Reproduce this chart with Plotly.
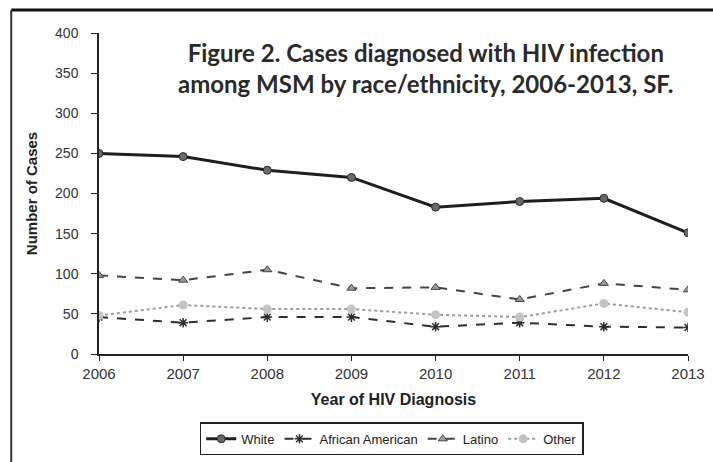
import plotly.graph_objects as go

years = [2006, 2007, 2008, 2009, 2010, 2011, 2012, 2013]
white = [250, 246, 229, 220, 183, 190, 194, 151]
african_american = [46, 39, 46, 46, 34, 39, 34, 33]
latino = [98, 92, 105, 82, 83, 68, 88, 80]
other = [48, 61, 56, 56, 49, 46, 63, 52]

y_ticks = [0, 50, 100, 150, 200, 250, 300, 350, 400]

fig = go.Figure()

fig.add_trace(go.Scatter(
    x=years, y=white, name="White", mode="lines+markers",
    line=dict(color="#1e1e1e", width=3),
    marker=dict(symbol="circle", size=8, color="#6a6a6a",
                line=dict(color="#2a2a2a", width=1)),
))
fig.add_trace(go.Scatter(
    x=years, y=african_american, name="African American", mode="lines+markers",
    line=dict(color="#2e2e2e", width=2, dash="dash"),
    marker=dict(symbol="asterisk", size=8, color="#2e2e2e",
                line=dict(color="#2e2e2e", width=1.5)),
))
fig.add_trace(go.Scatter(
    x=years, y=latino, name="Latino", mode="lines+markers",
    line=dict(color="#444444", width=2, dash="dash"),
    marker=dict(symbol="triangle-up", size=8, color="#9a9a9a",
                line=dict(color="#444444", width=1)),
))
fig.add_trace(go.Scatter(
    x=years, y=other, name="Other", mode="lines+markers",
    line=dict(color="#9c9c9c", width=2, dash="dot"),
    marker=dict(symbol="circle", size=9, color="#c4c4c4"),
))

# outer frame of the figure panel
fig.add_shape(type="line", xref="paper", yref="paper",
              x0=-0.149, x1=1.05, y0=1.072, y1=1.072,
              line=dict(color="#111111", width=3))
fig.add_shape(type="line", xref="paper", yref="paper",
              x0=-0.149, x1=-0.149, y0=1.072, y1=-0.35,
              line=dict(color="#333333", width=2))

fig.add_annotation(
    text="<b>Figure 2. Cases diagnosed with HIV infection<br>among MSM by race/ethnicity, 2006-2013, SF.</b>",
    xref="paper", yref="paper", x=0.555, y=0.99, xanchor="center", yanchor="top",
    showarrow=False, align="center",
    font=dict(family="Lato", size=24, color="#2a2a2a"),
)

fig.update_layout(
    width=713, height=462,
    margin=dict(l=99, r=25, t=33, b=108, autoexpand=False),
    paper_bgcolor="white", plot_bgcolor="white",
    showlegend=True,
    legend=dict(
        orientation="h", x=0.497, y=-0.213, xanchor="center", yanchor="top",
        bordercolor="#222222", borderwidth=1.5,
        font=dict(family="Arial", size=13, color="#222222"),
        itemwidth=30, tracegroupgap=0,
    ),
    font=dict(family="Arial", color="#333333"),
)

fig.update_xaxes(
    range=[2006, 2013], tickmode="array", tickvals=years,
    ticktext=[str(y) for y in years],
    showline=True, linecolor="#222222", linewidth=2,
    ticks="outside", ticklen=5, tickcolor="#222222",
    ticklabelstandoff=0,
    showgrid=False, zeroline=False,
    tickfont=dict(family="Arial", size=15, color="#333333"),
    title=dict(text="<b>Year of HIV Diagnosis</b>",
               font=dict(family="Arial", size=16, color="#222222"), standoff=13),
)
fig.update_yaxes(
    range=[0, 400], tickmode="array", tickvals=y_ticks,
    showline=True, linecolor="#222222", linewidth=1.5,
    ticks="outside", ticklen=6, tickcolor="#222222",
    ticklabelstandoff=10,
    showgrid=False, zeroline=False,
    tickfont=dict(family="Arial", size=14, color="#333333"),
    title=dict(text="<b>Number of Cases</b>",
               font=dict(family="Arial", size=15, color="#222222"), standoff=14),
)

fig.write_html("out.html")
